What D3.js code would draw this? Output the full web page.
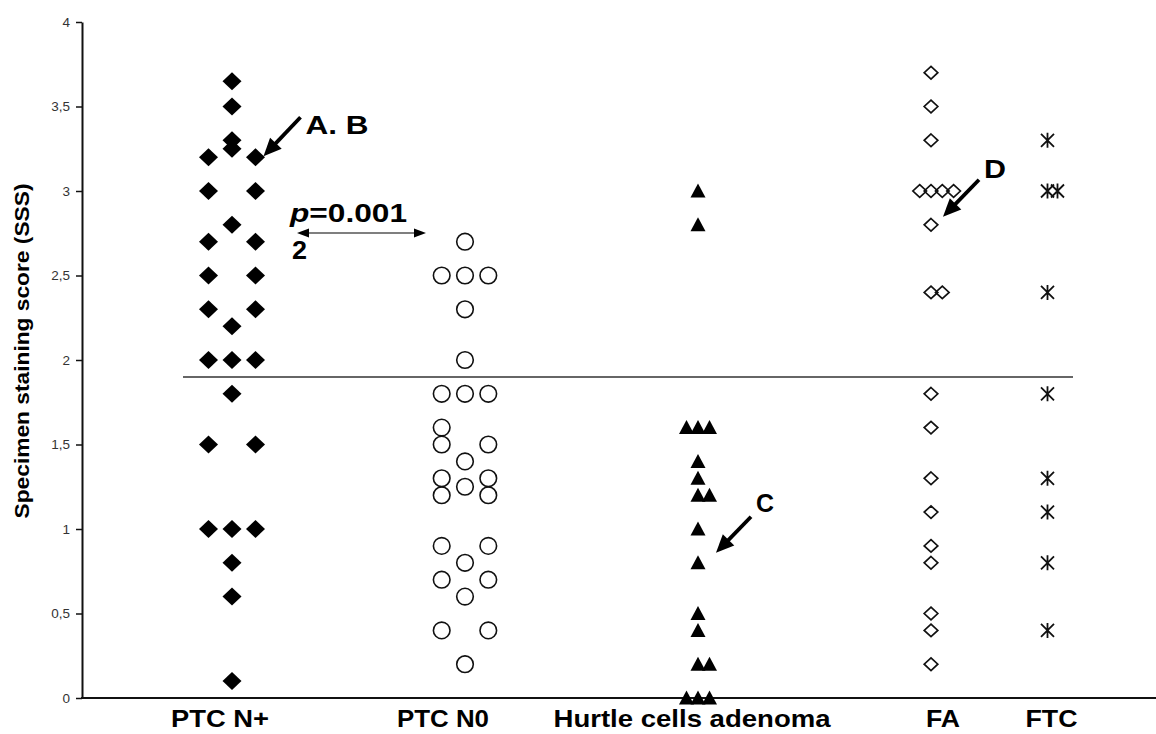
<!DOCTYPE html>
<html><head><meta charset="utf-8">
<script src="https://cdn.jsdelivr.net/npm/d3@7"></script>
<style>html,body{margin:0;padding:0;background:#fff;} svg{display:block;font-family:"Liberation Sans",Arial,sans-serif;}</style>
</head><body><svg id="c" width="1156" height="734"></svg>
<script>
// ---- data ----
const categories = ["PTC N+", "PTC N0", "Hurtle cells adenoma", "FA", "FTC"];
const yTickValues = [0, 0.5, 1, 1.5, 2, 2.5, 3, 3.5, 4];
const yTickLabels = ["0", "0,5", "1", "1,5", "2", "2,5", "3", "3,5", "4"];
const cutoffValue = 1.9;

const ptcNPlusValues = [3.65,3.5,3.3,3.25,3.2,3.2,3.0,3.0,2.8,2.7,2.7,2.5,2.5,2.3,2.3,2.2,2.0,2.0,2.0,1.8,1.5,1.5,1.0,1.0,1.0,0.8,0.6,0.1];
const ptcNPlusLanes  = [0,0,0,0,-1,1,-1,1,0,-1,1,-1,1,-1,1,0,-1,0,1,0,-1,1,-1,0,1,0,0,0];
const ptcN0Values = [2.7,2.5,2.5,2.5,2.3,2.0,1.8,1.8,1.8,1.6,1.5,1.5,1.4,1.3,1.3,1.25,1.2,1.2,0.9,0.9,0.8,0.7,0.7,0.6,0.4,0.4,0.2];
const ptcN0Lanes  = [0,-1,0,1,0,0,-1,0,1,-1,-1,1,0,-1,1,0,-1,1,-1,1,0,-1,1,0,-1,1,0];
const hurtleValues = [3.0,2.8,1.6,1.6,1.6,1.4,1.3,1.2,1.2,1.0,0.8,0.5,0.4,0.2,0.2,0,0,0];
const hurtleLanes  = [0,0,-1,0,1,0,0,0,1,0,0,0,0,0,1,-1,0,1];
const faValues = [3.7,3.5,3.3,3.0,3.0,3.0,3.0,2.8,2.4,2.4,1.8,1.6,1.3,1.1,0.9,0.8,0.5,0.4,0.2];
const faLanes  = [0,0,0,-1,0,1,2,0,0,1,0,0,0,0,0,0,0,0,0];
const ftcValues = [3.3,3.0,3.0,2.4,1.8,1.3,1.1,0.8,0.4];
const ftcLanes  = [0,0,1,0,0,0,0,0,0];

// ---- layout ----
const W = 1156, H = 734;
const svg = d3.select("#c");
svg.append("rect").attr("width", W).attr("height", H).attr("fill", "#fff");

const y = d3.scaleLinear().domain([0, 4]).range([698, 22]);
// column positions in half-step units
const colUnits = [0, 2, 4, 6, 7];
const xc = d3.scaleLinear().domain([0, 8]).range([232, 1164]);
const colX = i => xc(colUnits[i]);

const groups = [
  {vals: ptcNPlusValues, lanes: ptcNPlusLanes, lane: 23.5, shape: "fdiamond"},
  {vals: ptcN0Values, lanes: ptcN0Lanes, lane: 23.3, shape: "circle"},
  {vals: hurtleValues, lanes: hurtleLanes, lane: 11.5, shape: "triangle"},
  {vals: faValues, lanes: faLanes, lane: 11.3, shape: "odiamond"},
  {vals: ftcValues, lanes: ftcLanes, lane: 10, shape: "star"}
];

// Y axis
const yAxis = d3.axisLeft(y).tickValues(yTickValues)
  .tickFormat((d, i) => yTickLabels[i]).tickSize(6).tickSizeOuter(0).tickPadding(6);
const gy = svg.append("g").attr("transform", "translate(82,0)").call(yAxis);
gy.select(".domain").attr("stroke", "#111").attr("stroke-width", 2);
gy.selectAll(".tick line").attr("stroke", "#111").attr("stroke-width", 1.5);
gy.selectAll(".tick text").attr("font-size", 13.5).attr("fill", "#333")
  .attr("font-family", "Liberation Sans, Arial, sans-serif");

// X axis line
svg.append("line").attr("x1", 81).attr("x2", W).attr("y1", y(0)).attr("y2", y(0))
  .attr("stroke", "#111").attr("stroke-width", 2);

// cutoff line
svg.append("line").attr("x1", 183).attr("x2", 1073).attr("y1", y(cutoffValue)).attr("y2", y(cutoffValue))
  .attr("stroke", "#333").attr("stroke-width", 1.5);

// points
const triPath = "M0,-7.5L7.5,6.5L-7.5,6.5Z";
groups.forEach((g, gi) => {
  const cx = colX(gi);
  const pts = g.vals.map((v, i) => ({x: cx + g.lanes[i] * g.lane, y: y(v)}));
  const sel = svg.append("g").selectAll("g").data(pts).join("g")
    .attr("transform", d => `translate(${d.x},${d.y})`);
  if (g.shape === "fdiamond") {
    sel.append("path").attr("d", "M0,-9L9.5,0L0,9L-9.5,0Z").attr("fill", "#000");
  } else if (g.shape === "circle") {
    sel.append("circle").attr("r", 8.3).attr("fill", "none").attr("stroke", "#111").attr("stroke-width", 1.6);
  } else if (g.shape === "triangle") {
    sel.append("path").attr("d", triPath).attr("fill", "#000");
  } else if (g.shape === "odiamond") {
    sel.append("path").attr("d", "M0,-6.3L6.8,0L0,6.3L-6.8,0Z").attr("fill", "none")
      .attr("stroke", "#111").attr("stroke-width", 1.7);
  } else {
    sel.append("path").attr("d", "M0,-7.5L0,7.5M-6.5,-6.5L6.5,6.5M6.5,-6.5L-6.5,6.5")
      .attr("stroke", "#111").attr("stroke-width", 1.8).attr("fill", "none");
  }
});

// x labels
const labelDx = [-12, -22, -6, 12, 4];
const labelLen = [98, 92, 277, 34, 52];
svg.append("g").selectAll("text").data(categories).join("text")
  .attr("x", (d, i) => colX(i) + labelDx[i]).attr("y", 727)
  .attr("text-anchor", "middle").attr("font-weight", "bold").attr("font-size", 24)
  .attr("textLength", (d, i) => labelLen[i]).attr("lengthAdjust", "spacingAndGlyphs")
  .attr("fill", "#000").text(d => d);

// y title
svg.append("text").attr("transform", "translate(29,351) rotate(-90)")
  .attr("text-anchor", "middle").attr("font-weight", "bold").attr("font-size", 21)
  .attr("textLength", 335).attr("lengthAdjust", "spacingAndGlyphs")
  .text("Specimen staining score (SSS)");

// annotations
function arrow(x1, y1, x2, y2, hl, hw, lw) {
  const a = Math.atan2(y2 - y1, x2 - x1);
  const bx = x2 - hl * Math.cos(a), by = y2 - hl * Math.sin(a);
  svg.append("line").attr("x1", x1).attr("y1", y1).attr("x2", bx + Math.cos(a)).attr("y2", by + Math.sin(a))
    .attr("stroke", "#000").attr("stroke-width", lw);
  const px = -Math.sin(a) * hw / 2, py = Math.cos(a) * hw / 2;
  svg.append("path").attr("d", `M${x2},${y2}L${bx + px},${by + py}L${bx - px},${by - py}Z`).attr("fill", "#000");
}
function label(t, x, yy, len) {
  svg.append("text").attr("x", x).attr("y", yy).attr("font-weight", "bold").attr("font-size", 26)
    .attr("textLength", len).attr("lengthAdjust", "spacingAndGlyphs").text(t);
}
// A. B -> PTC N+ 3.2 right
{
  const px = colX(0) + 23.5, py = y(3.2);
  arrow(px + 45, py - 40, px + 8, py - 1, 18, 16, 3.8);
  label("A. B", px + 50, py - 23, 63);
}
// C -> Hurtle 0.8
{
  const px = colX(2), py = y(0.8);
  arrow(px + 53, py - 46, px + 18, py - 10, 18, 16, 3.8);
  label("C", px + 58, py - 51, 18);
}
// D -> FA 2.8
{
  const px = colX(3), py = y(2.8);
  arrow(px + 48, py - 45, px + 12, py - 8, 18, 16, 3.8);
  label("D", px + 53, py - 47, 22);
}
// p value
{
  const t = svg.append("text").attr("x", 290).attr("y", 222).attr("font-weight", "bold").attr("font-size", 26)
    .attr("textLength", 117).attr("lengthAdjust", "spacingAndGlyphs");
  t.append("tspan").attr("font-style", "italic").text("p");
  t.append("tspan").text("=0.001");
  svg.append("text").attr("x", 292).attr("y", 259).attr("font-weight", "bold").attr("font-size", 26)
    .attr("textLength", 15).attr("lengthAdjust", "spacingAndGlyphs").text("2");
  const ay = 233;
  svg.append("line").attr("x1", 305).attr("x2", 418).attr("y1", ay).attr("y2", ay).attr("stroke", "#000").attr("stroke-width", 1.2);
  svg.append("path").attr("d", `M297,${ay}L309,${ay-4.5}L309,${ay+4.5}Z`).attr("fill", "#000");
  svg.append("path").attr("d", `M426,${ay}L414,${ay-4.5}L414,${ay+4.5}Z`).attr("fill", "#000");
}
</script></body></html>
